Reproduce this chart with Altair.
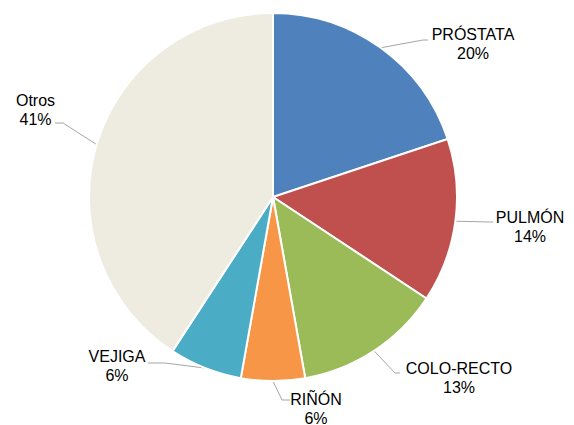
import altair as alt
import pandas as pd

# ---- data ----
categories = ["PRÓSTATA", "PULMÓN", "COLO-RECTO", "RIÑÓN", "VEJIGA", "Otros"]
values = [19.9, 14.4, 12.9, 5.6, 6.4, 40.8]
pct_labels = ["20%", "14%", "13%", "6%", "6%", "41%"]
colors = ["#4F81BD", "#C0504D", "#9BBB59", "#F79646", "#4BACC6", "#EEECE1"]

# ---- layout (chart pixel coordinates) ----
CX, CY, R = 265, 189, 184
label_x = [465, 522, 451, 308, 109, 27.5]
label_y = [27, 210, 361, 392, 349, 93]
elbow_x = [415, 482, 387, 274, 157, 55]
elbow_y = [32, 214, 365, 392, 355, 115]
end_x = [420, 485, 392, 282, 140, 47]
end_y = [32, 214, 365, 392, 355, 115]

df = pd.DataFrame({
    "idx": list(range(len(categories))),
    "cat": categories,
    "value": values,
    "text": [f"{c}\n{p}" for c, p in zip(categories, pct_labels)],
    "label_x": label_x,
    "label_y": label_y,
    "elbow_x": elbow_x,
    "elbow_y": elbow_y,
    "end_x": end_x,
    "end_y": end_y,
})

base = alt.Chart(df)

pie = base.mark_arc(outerRadius=R, stroke="white", strokeWidth=2).encode(
    theta=alt.Theta("value:Q", stack=True),
    order=alt.Order("idx:Q"),
    color=alt.Color("cat:N", scale=alt.Scale(domain=categories, range=colors), legend=None),
    x=alt.value(CX),
    y=alt.value(CY),
)

edge = base.transform_joinaggregate(total="sum(value)").transform_window(
    cum="sum(value)", sort=[alt.SortField("idx")], frame=[None, 0]
).transform_calculate(
    mid="(datum.cum - datum.value / 2) / datum.total * 2 * PI",
    ex=f"{CX} + {R} * sin(datum.mid)",
    ey=f"{CY} - {R} * cos(datum.mid)",
)

lead1 = edge.mark_rule(color="#A6A6A6", strokeWidth=1).encode(
    x=alt.X("ex:Q", scale=None, axis=None),
    y=alt.Y("ey:Q", scale=None, axis=None),
    x2="elbow_x:Q",
    y2="elbow_y:Q",
)

lead2 = base.mark_rule(color="#A6A6A6", strokeWidth=1).encode(
    x=alt.X("elbow_x:Q", scale=None, axis=None),
    y=alt.Y("elbow_y:Q", scale=None, axis=None),
    x2="end_x:Q",
    y2="end_y:Q",
)

labels = base.mark_text(
    lineBreak="\n", align="center", baseline="middle",
    font="Liberation Sans", fontSize=16, lineHeight=19, color="#000000",
).encode(
    x=alt.X("label_x:Q", scale=None, axis=None),
    y=alt.Y("label_y:Q", scale=None, axis=None),
    text="text:N",
)

chart = alt.layer(lead1, lead2, pie, labels).properties(
    width=558, height=409,
    padding={"top": 0, "left": 0, "right": 0, "bottom": 8},
    autosize=alt.AutoSizeParams(type="none"),
).configure_view(stroke=None)

chart.save("out.html", embed_options={"renderer": "svg", "actions": False})
